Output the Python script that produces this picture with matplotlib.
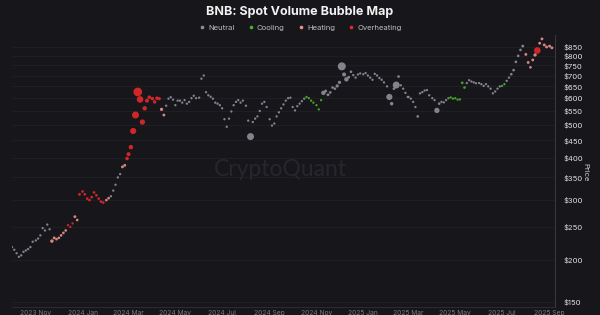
import numpy as np
import pandas as pd
import matplotlib
matplotlib.use("Agg")
import matplotlib.pyplot as plt
import matplotlib.dates as mdates
from matplotlib.lines import Line2D
from matplotlib.ticker import FixedLocator, NullLocator

plt.rcParams['font.family'] = ['Inter', 'DejaVu Sans']

# sample days inside each month (every 3rd day)
months = pd.period_range("2023-10", "2025-08", freq="M")
days = [1, 4, 7, 10, 13, 16, 19, 22, 25, 28]

# BNB price, one row per month (Oct 2023 .. Aug 2025), then Sep 2025
price = [
    218, 214, 209, 204, 206, 211, 213, 215, 218, 226,   # 2023-10
    228, 231, 236, 248, 244, 254, 246, 227, 232, 230,   # 2023-11
    232, 236, 240, 244, 253, 250, 256, 268, 262, 312,   # 2023-12
    318, 312, 303, 300, 306, 316, 310, 303, 297, 295,   # 2024-01
    300, 304, 308, 320, 333, 350, 358, 376, 380, 398,   # 2024-02
    410, 430, 480, 535, 626, 595, 510, 560, 590, 604,   # 2024-03
    598, 585, 600, 598, 556, 535, 570, 598, 604, 594,   # 2024-04
    572, 590, 590, 582, 592, 578, 585, 600, 610, 600,   # 2024-05
    602, 685, 700, 625, 612, 606, 598, 582, 578, 572,   # 2024-06
    560, 520, 494, 522, 548, 572, 585, 592, 582, 590,   # 2024-07
    570, 515, 462, 510, 522, 530, 550, 578, 585, 565,   # 2024-08
    520, 498, 505, 530, 545, 560, 575, 590, 600, 602,   # 2024-09
    565, 552, 568, 578, 588, 598, 605, 600, 590, 582,   # 2024-10
    572, 556, 592, 622, 630, 614, 624, 645, 640, 652,   # 2024-11
    668, 745, 705, 682, 692, 718, 702, 690, 705, 710,   # 2024-12
    706, 712, 700, 690, 680, 708, 700, 688, 680, 668,   # 2025-01
    650, 605, 578, 640, 656, 695, 655, 640, 622, 605,   # 2025-02
    605, 598, 585, 565, 530, 620, 625, 632, 634, 612,   # 2025-03
    600, 592, 552, 578, 585, 583, 592, 600, 603, 598,   # 2025-04
    600, 594, 595, 666, 645, 665, 678, 672, 668, 664,   # 2025-05
    665, 660, 652, 660, 650, 640, 620, 628, 640, 650,   # 2025-06
    652, 660, 675, 690, 706, 726, 768, 800, 833, 855,   # 2025-07
    808, 765, 740, 778, 805, 830, 872, 898, 862, 850,   # 2025-08
    855, 845,                                           # 2025-09
]

# relative spot volume (bubble size)
volume = [
    1, 1, 1, 1, 1, 1, 1, 1, 1, 1,
    1, 1, 1, 1, 1, 1, 1, 2.2, 1.5, 1.3,
    1.3, 1.3, 1.3, 1.3, 1, 1, 1, 1.5, 1.3, 1.5,
    1.3, 1.3, 1.3, 1.3, 1.3, 1.3, 1.3, 1.3, 1.3, 1.3,
    1.3, 1.3, 1, 1, 1, 1, 1, 1.5, 1.5, 2.3,
    3, 3.6, 7, 9, 14, 8, 5.2, 3.6, 3, 2.3,
    2.3, 2.3, 2.3, 2, 2, 1.5, 1, 1, 1, 1,
    1, 1, 1, 1, 1, 1, 1, 1, 1, 1,
    1, 1, 1, 1, 1, 1, 1, 1, 1, 1,
    1, 1, 1, 1, 1, 1, 1, 1, 1, 1,
    1, 1, 9, 1, 1, 1, 1, 1, 1, 1,
    1, 1, 1, 1, 1, 1, 1, 1, 1, 1,
    1, 1, 1, 1, 1, 1, 1, 1, 1, 1,
    1, 1, 1, 3.6, 1.5, 1.5, 1.3, 1.3, 1.3, 2,
    2, 11.8, 3, 3.6, 1.5, 1.3, 1, 1, 1, 1,
    1, 1, 1, 1, 1, 1, 1, 1, 1, 1,
    1, 7, 2.3, 1.3, 9, 1.3, 1, 1, 1, 1,
    1, 1, 1, 1, 1.3, 1, 1, 1, 1, 1,
    1, 1, 5.2, 1.3, 1, 1, 1, 1, 1, 1,
    1, 1, 1, 1.3, 1.3, 1, 1, 1, 1, 1,
    1, 1, 1, 1, 1, 1, 1, 1, 1, 1,
    1, 1, 1, 1, 1.3, 1.3, 1.3, 1.3, 1.3, 1.5,
    1.5, 1.5, 1.3, 1.5, 2, 8, 1.5, 1.5, 1.5, 1.5,
    1.5, 1.5,
]

# regime: N neutral, C cooling, H heating, O overheating
regime = (
    "NNNNNNNNNN" "NNNNNNNHHH" "HHHHOOOHHO" "OOOOOOOOOO"
    "HHNNNNNHHO" "OOOOOOOOOO" "OOOOHHNNNN" "NNNNNNNNNN"
    "NNNNNNNNNN" "NNNNNNNNNN" "NNNNNNNNNN" "NNNNNNNNNN"
    "NNNNNNCCCC" "CCCNNNNNNN" "NNNNNNNNNN" "NNNNNNNNNN"
    "NNNNNNNNNN" "NNNNNNNNNN" "NNNNNNNCCC" "CCCCCNNNNN"
    "NNNNNNNNNN" "CCNNNNNNNN" "HHHHHOHHHH" "HH"
)

dates = [pd.Timestamp(m.year, m.month, d) for m in months for d in days]
dates += [pd.Timestamp(2025, 9, 1), pd.Timestamp(2025, 9, 4)]

bg = "#17171b"
colors = {"N": "#8d8d98", "C": "#47b02c", "H": "#e8908b", "O": "#e2282a"}
names = {"N": "Neutral", "C": "Cooling", "H": "Heating", "O": "Overheating"}

fig = plt.figure(figsize=(6, 3.15), dpi=100, facecolor=bg)
ax = fig.add_axes([12 / 600, 8 / 315, 543 / 600, 272 / 315], facecolor=bg)

d = np.array(dates)
p = np.array(price, dtype=float)
v = np.array(volume, dtype=float)
r = np.array(list(regime))
for k in ["N", "C", "H", "O"]:
    m = r == k
    ax.scatter(d[m], p[m], s=2.8 * v[m], color=colors[k], alpha=0.92,
               linewidths=0, zorder=3)

ax.set_yscale("log")
ax.set_ylim(145, 922)
ax.set_xlim(pd.Timestamp("2023-10-01"), pd.Timestamp("2025-09-08"))

yt = [150, 200, 250, 300, 350, 400, 450, 500, 550, 600, 650, 700, 750, 800, 850]
ax.yaxis.set_major_locator(FixedLocator(yt))
ax.yaxis.set_minor_locator(NullLocator())
ax.set_yticklabels([f"${t}" for t in yt])
ax.yaxis.tick_right()
ax.tick_params(axis="y", length=0, pad=6, labelsize=5.5, labelcolor="#e0e0e0")
ax.grid(axis="y", color="#202025", lw=0.6, zorder=0)

xt = [pd.Timestamp(y, mo, 1) for y, mo in
      [(2023, 11), (2024, 1), (2024, 3), (2024, 5), (2024, 7), (2024, 9),
       (2024, 11), (2025, 1), (2025, 3), (2025, 5), (2025, 7), (2025, 9)]]
ax.set_xticks(xt)
ax.xaxis.set_major_formatter(mdates.DateFormatter("%Y %b"))
ax.tick_params(axis="x", length=0, pad=2, labelsize=4.8, labelcolor="#7a7a82")

for s in ["left", "top"]:
    ax.spines[s].set_visible(False)
ax.spines["right"].set_color("#3a3a40")
ax.spines["right"].set_linewidth(0.7)
ax.spines["bottom"].set_color("#2c2c31")
ax.spines["bottom"].set_linewidth(0.7)

fig.text(585 / 600, 1 - 172 / 315, "Price", rotation=-90, fontsize=5.5,
         color="#cfcfcf", ha="center", va="center")

fig.text(0.5, 1 - 12 / 315, "BNB: Spot Volume Bubble Map", fontsize=9,
         fontweight="bold", color="#f2f2f2", ha="center", va="center")

handles = [Line2D([], [], ls="", marker="o", ms=1.6, color=colors[k],
                  label=names[k]) for k in ["N", "C", "H", "O"]]
leg = fig.legend(handles=handles, loc="center", ncol=4,
                 bbox_to_anchor=(0.5, 1 - 27.5 / 315), frameon=False,
                 fontsize=5.5, handletextpad=0.3, columnspacing=1.6,
                 handlelength=1)
for t in leg.get_texts():
    t.set_color("#bdbdbd")

fig.text(280 / 600, 1 - 170 / 315, "CryptoQuant", fontsize=16.5,
         color="#26262c", ha="center", va="center", family=["Lato", "DejaVu Sans"],
         zorder=1)

fig.savefig("out.png", dpi=100, facecolor=bg)
